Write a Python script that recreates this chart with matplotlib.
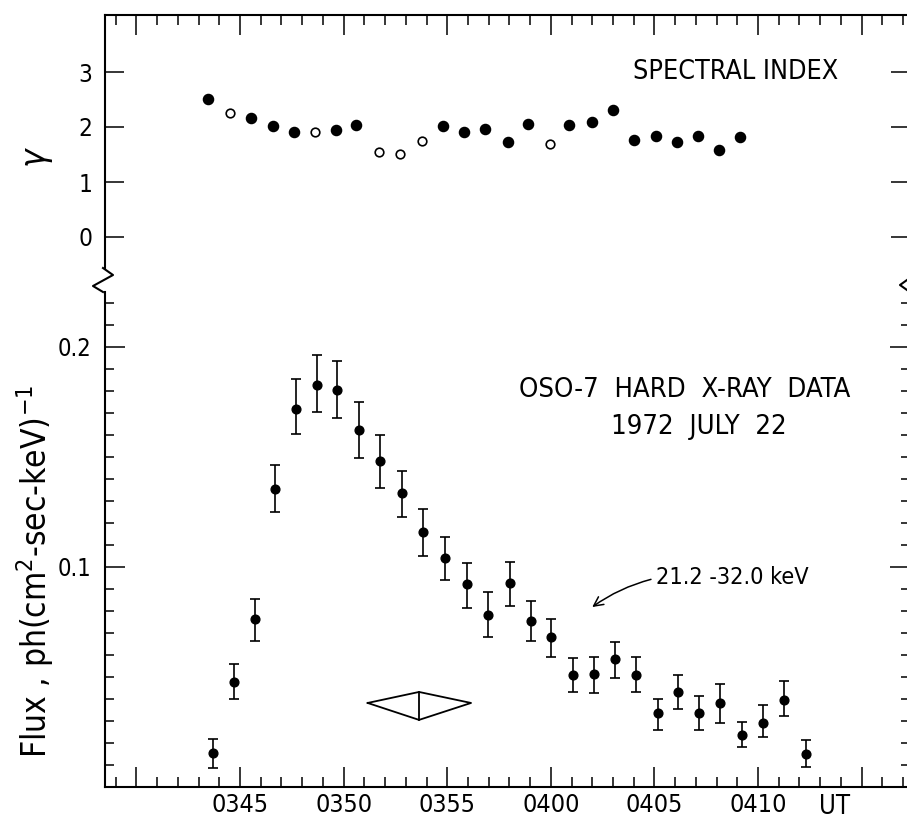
import numpy as np
import matplotlib
matplotlib.use('Agg')
import matplotlib.pyplot as plt
from matplotlib.lines import Line2D
from matplotlib.ticker import MultipleLocator, FixedLocator

plt.rcParams['font.family'] = ['DejaVu Sans']
plt.rcParams['font.stretch'] = 'condensed'
plt.rcParams['mathtext.fontset'] = 'dejavusans'

# time in minutes after 03:00 UT
time_ticks = [40, 45, 50, 55, 60, 65, 70, 75]
time_labels = ['', '0345', '0350', '0355', '0400', '0405', '0410', '']

# spectral index
gam_t = [43.47, 44.52, 45.53, 46.58, 47.59, 48.62, 49.63, 50.60, 51.72, 52.70,
         53.77, 54.81, 55.83, 56.82, 57.95, 58.91, 59.96, 60.89, 61.97, 63.02,
         64.03, 65.06, 66.10, 67.10, 68.10, 69.15]
gamma = [2.50, 2.25, 2.16, 2.01, 1.90, 1.90, 1.95, 2.04, 1.55, 1.50,
         1.75, 2.02, 1.91, 1.96, 1.73, 2.05, 1.69, 2.03, 2.09, 2.31,
         1.76, 1.84, 1.72, 1.84, 1.59, 1.81]
gam_open = [False, True, False, False, False, True, False, False, True, True,
            True, False, False, False, False, False, True, False, False, False,
            False, False, False, False, False, False]

# flux 21.2-32.0 keV
flux_t = [43.71, 44.71, 45.72, 46.69, 47.70, 48.70, 49.70, 50.74, 51.77, 52.80,
          53.85, 54.89, 55.94, 56.95, 58.03, 59.03, 60.01, 61.06, 62.07, 63.08,
          64.10, 65.16, 66.14, 67.17, 68.17, 69.24, 70.26, 71.26, 72.30]
flux = [0.0156, 0.0479, 0.0765, 0.1355, 0.1720, 0.1829, 0.1803, 0.1621, 0.1482, 0.1336,
        0.1160, 0.1041, 0.0921, 0.0782, 0.0926, 0.0753, 0.0683, 0.0509, 0.0512, 0.0580,
        0.0508, 0.0338, 0.0432, 0.0335, 0.0382, 0.0238, 0.0292, 0.0394, 0.0151]
flux_top = [0.0217, 0.0561, 0.0856, 0.1464, 0.1853, 0.1965, 0.1936, 0.1750, 0.1601, 0.1436,
            0.1264, 0.1138, 0.1017, 0.0888, 0.1023, 0.0845, 0.0765, 0.0586, 0.0590, 0.0660,
            0.0592, 0.0399, 0.0509, 0.0412, 0.0470, 0.0297, 0.0373, 0.0483, 0.0214]
flux_bot = [0.0088, 0.0400, 0.0664, 0.1249, 0.1603, 0.1703, 0.1677, 0.1494, 0.1358, 0.1226,
            0.1051, 0.0941, 0.0812, 0.0683, 0.0824, 0.0665, 0.0592, 0.0430, 0.0426, 0.0494,
            0.0430, 0.0259, 0.0356, 0.0258, 0.0290, 0.0180, 0.0226, 0.0324, 0.0091]

# diamond marker (accumulation interval)
dia_t = [51.16, 53.64, 56.15, 53.64, 51.16]
dia_f = [0.0382, 0.0432, 0.0382, 0.0305, 0.0382]

W, H = 907, 821
fig = plt.figure(figsize=(W / 100, H / 100), dpi=100)

left = 105 / W
width = 805 / W
y_break = 285
ax_bot = fig.add_axes([left, (H - 787) / H, width, (787 - y_break) / H])
ax_top = fig.add_axes([left, (H - y_break) / H, width, (y_break - 15) / H])

lw = 1.5
for ax in (ax_top, ax_bot):
    ax.set_xlim(38.48, 77.34)
    for s in ax.spines.values():
        s.set_linewidth(lw)
    ax.xaxis.set_major_locator(FixedLocator(time_ticks))
    ax.xaxis.set_minor_locator(MultipleLocator(1))
    ax.tick_params(which='both', direction='in', width=1.1, colors='black')
    ax.tick_params(which='major', length=14.5)
    ax.tick_params(which='minor', length=7)

ax_top.spines['bottom'].set_visible(False)
ax_bot.spines['top'].set_visible(False)

# top panel - gamma
ax_top.set_ylim((237 - y_break) / 55, (237 - 15) / 55)
ax_top.set_yticks([0, 1, 2, 3])
ax_top.tick_params(axis='x', which='both', bottom=False, top=True, labelbottom=False)
ax_top.tick_params(axis='y', left=True, right=True, length=14, labelsize=17.5, pad=9)
ax_top.spines['left'].set_bounds((237 - 268) / 55, (237 - 15) / 55)

gt = np.array(gam_t)
gv = np.array(gamma)
op = np.array(gam_open)
ax_top.plot(gt[~op], gv[~op], 'o', color='black', ms=7.3)
ax_top.plot(gt[op], gv[op], 'o', mfc='white', mec='black', mew=1.2, ms=6.2)
ax_top.text(68.9, 3.0, 'SPECTRAL INDEX', ha='center', va='center', fontsize=19.3)

# bottom panel - flux
ax_bot.set_ylim(0, (787 - y_break) / 2200)
ax_bot.yaxis.set_major_locator(FixedLocator([0.1, 0.2]))
ax_bot.yaxis.set_minor_locator(MultipleLocator(0.01))
ax_bot.set_yticklabels(['0.1', '0.2'])
ax_bot.tick_params(axis='y', which='both', left=True, right=True, labelsize=17, pad=10)
ax_bot.tick_params(axis='y', which='minor', length=6.5)
ax_bot.set_xticklabels(time_labels)
ax_bot.tick_params(axis='x', which='both', top=False, labelsize=18, pad=4)
ax_bot.spines['left'].set_bounds(0, (787 - 292) / 2200)

f = np.array(flux)
yerr = [f - np.array(flux_bot), np.array(flux_top) - f]
ax_bot.errorbar(flux_t, f, yerr=yerr, fmt='o', color='black', ms=6.3,
                elinewidth=1.2, capsize=3.4, capthick=1.2)
ax_bot.plot(dia_t, dia_f, color='black', lw=1.3)
ax_bot.plot([dia_t[1], dia_t[3]], [dia_f[1], dia_f[3]], color='black', lw=1.3)

ax_bot.text(66.45, 0.1805, 'OSO-7  HARD  X-RAY  DATA', ha='center', va='center', fontsize=19.7)
ax_bot.text(67.15, 0.1636, '1972  JULY  22', ha='center', va='center', fontsize=19.7)
ax_bot.annotate('21.2 -32.0 keV', xy=(62.0, 0.0818), xytext=(65.1, 0.095),
                ha='left', va='center', fontsize=16.8,
                arrowprops=dict(arrowstyle='->', color='black', lw=1.1,
                                connectionstyle='arc3,rad=0.1', relpos=(0, 0.5),
                                shrinkA=2, shrinkB=0))
ax_bot.text(73.7, -0.0092, 'UT', ha='center', va='center', fontsize=18.5)

# axis break marks
def px(x, y):
    return x / W, (H - y) / H

zig = [px(103, 268), px(113, 275), px(93, 286), px(103, 292)]
fig.add_artist(Line2D([p[0] for p in zig], [p[1] for p in zig], color='black',
                      lw=lw, transform=fig.transFigure))
zig_r = [px(907, 280), px(900, 285), px(907, 290)]
fig.add_artist(Line2D([p[0] for p in zig_r], [p[1] for p in zig_r], color='black',
                      lw=lw, transform=fig.transFigure))

# axis labels
fig.text(38 / W, (H - 157) / H, r'$\gamma$', rotation=90, ha='center', va='center',
         fontsize=25)
fig.text(35 / W, (H - 571) / H, r'Flux , ph(cm$^2$-sec-keV)$^{-1}$', rotation=90,
         ha='center', va='center', fontsize=24)

fig.savefig('out.png', dpi=100)
